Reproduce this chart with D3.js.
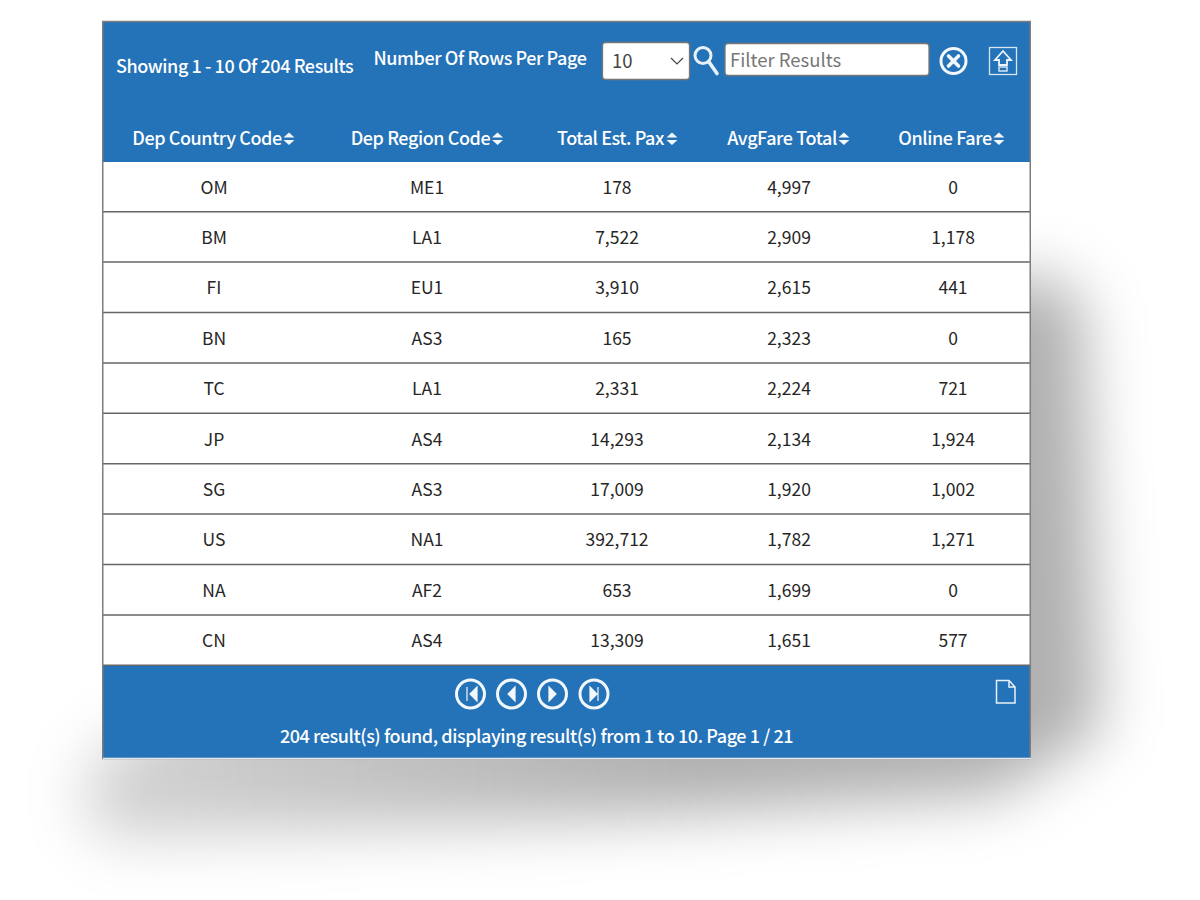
<!DOCTYPE html>
<html>
<head>
<meta charset="utf-8">
<script src="https://cdn.jsdelivr.net/npm/d3@7"></script>
<style>
  html, body { margin: 0; padding: 0; background: #fff; }
  svg { display: block; }
  text { font-family: "Noto Sans CJK JP", "Noto Sans", sans-serif; }
  .head { fill: #fff; font-size: 18px; font-weight: 500; letter-spacing: -0.42px; }
  .cell { fill: #262626; font-size: 17.5px; text-anchor: middle; }
</style>
</head>
<body>
<svg id="chart" width="1200" height="900"></svg>
<script>
const columns = ["Dep Country Code", "Dep Region Code", "Total Est. Pax", "AvgFare Total", "Online Fare"];
const countryCodes = ["OM", "BM", "FI", "BN", "TC", "JP", "SG", "US", "NA", "CN"];
const regionCodes = ["ME1", "LA1", "EU1", "AS3", "LA1", "AS4", "AS3", "NA1", "AF2", "AS4"];
const totalPax = [178, 7522, 3910, 165, 2331, 14293, 17009, 392712, 653, 13309];
const avgFare = [4997, 2909, 2615, 2323, 2224, 2134, 1920, 1782, 1699, 1651];
const onlineFare = [0, 1178, 441, 0, 721, 1924, 1002, 1271, 0, 577];

const showingText = "Showing 1 - 10 Of 204 Results";
const rowsPerPageText = "Number Of Rows Per Page";
const footerText = "204 result(s) found, displaying result(s) from 1 to 10. Page 1 / 21";

const blue = "#2472b7";
const svg = d3.select("#chart");
const fmt = d3.format(",");

const panel = { left: 102, right: 1031, top: 21, headBottom: 162, rowsBottom: 665, bottom: 759 };

// column centres are not even so ordinal instead of band
const x = d3.scaleOrdinal().domain(columns).range([214, 427, 617, 789, 953]);
const y = d3.scaleBand()
  .domain(d3.range(countryCodes.length))
  .range([161.3, 665.3]);

// shadow, lighter towards the lower left
const defs = svg.append("defs");
defs.append("filter").attr("id", "blur")
  .attr("x", "-20%").attr("y", "-20%").attr("width", "140%").attr("height", "140%")
  .append("feGaussianBlur").attr("stdDeviation", 30);

const shadowFade = defs.append("linearGradient").attr("id", "shadowFade")
  .attr("x1", "0%").attr("y1", "0%").attr("x2", "60%").attr("y2", "0%");
shadowFade.append("stop").attr("offset", "0%").attr("stop-color", "#000").attr("stop-opacity", 0.17);
shadowFade.append("stop").attr("offset", "100%").attr("stop-color", "#000").attr("stop-opacity", 0.31);

svg.append("path")
  .attr("d", "M120,740 L1030,270 L1082,300 L1100,730 L1000,795 L600,818 L100,838 L78,785 Z")
  .attr("fill", "url(#shadowFade)")
  .attr("filter", "url(#blur)");

// panel
svg.append("rect")
  .attr("x", panel.left).attr("y", panel.top)
  .attr("width", panel.right - panel.left).attr("height", panel.bottom - panel.top)
  .attr("fill", blue);

svg.append("rect")
  .attr("x", panel.left).attr("y", panel.headBottom)
  .attr("width", panel.right - panel.left).attr("height", panel.rowsBottom - panel.headBottom)
  .attr("fill", "#fff");

// row separators
svg.append("g").selectAll("line").data(d3.range(countryCodes.length)).join("line")
  .attr("x1", panel.left).attr("x2", panel.right)
  .attr("y1", d => y(d) + y.bandwidth())
  .attr("y2", d => y(d) + y.bandwidth())
  .attr("stroke", "#666").attr("stroke-width", 1.5);

// outer border
svg.append("rect")
  .attr("x", panel.left + 0.75).attr("y", panel.top + 0.5)
  .attr("width", panel.right - panel.left - 1.5).attr("height", panel.bottom - panel.top - 1)
  .attr("fill", "none").attr("stroke", "#7d7d7d").attr("stroke-width", 1.5);

svg.append("line")
  .attr("x1", panel.left + 1).attr("x2", panel.right)
  .attr("y1", panel.bottom - 0.5).attr("y2", panel.bottom - 0.5)
  .attr("stroke", "#dbe7f1").attr("stroke-width", 1.4);

// top bar
svg.append("text").attr("class", "head").attr("x", 116).attr("y", 73).text(showingText);
svg.append("text").attr("class", "head").attr("x", 373.5).attr("y", 65).text(rowsPerPageText);

// select box
svg.append("rect")
  .attr("x", 602.5).attr("y", 42.5).attr("width", 87).attr("height", 37).attr("rx", 3)
  .attr("fill", "#fff").attr("stroke", "#777").attr("stroke-width", 1.3);
svg.append("text").attr("x", 612).attr("y", 68).attr("fill", "#444").attr("font-size", 18.5).text("10");
svg.append("path").attr("d", "M671,58 L677,64 L683,58")
  .attr("fill", "none").attr("stroke", "#444").attr("stroke-width", 1.2);

// magnifier
svg.append("circle").attr("cx", 703).attr("cy", 55.5).attr("r", 8)
  .attr("fill", "none").attr("stroke", "#eaf2f9").attr("stroke-width", 3);
svg.append("line").attr("x1", 709).attr("y1", 62).attr("x2", 717).attr("y2", 73.5)
  .attr("stroke", "#eaf2f9").attr("stroke-width", 3.6).attr("stroke-linecap", "round");

// filter input
svg.append("rect")
  .attr("x", 725).attr("y", 43.5).attr("width", 204).attr("height", 32).attr("rx", 3)
  .attr("fill", "#fff").attr("stroke", "#777").attr("stroke-width", 1.3);
svg.append("text").attr("x", 730).attr("y", 67).attr("fill", "#777").attr("font-size", 18.5).text("Filter Results");

// clear icon
svg.append("circle").attr("cx", 953.5).attr("cy", 61).attr("r", 12.5)
  .attr("fill", "none").attr("stroke", "#f2f7fb").attr("stroke-width", 3);
svg.append("path").attr("d", "M948.5,56 L958.5,66 M958.5,56 L948.5,66")
  .attr("stroke", "#f2f7fb").attr("stroke-width", 3.6).attr("stroke-linecap", "round");

// export icon
svg.append("rect").attr("x", 989.5).attr("y", 47.5).attr("width", 27).attr("height", 27)
  .attr("fill", "none").attr("stroke", "#d8e6f2").attr("stroke-width", 1.3);
svg.append("path").attr("d", "M1003,51 L1011,60 L1007,60 L1007,65 L999,65 L999,60 L995,60 Z")
  .attr("fill", "none").attr("stroke", "#eef4f9").attr("stroke-width", 1.8);
svg.append("rect").attr("x", 999).attr("y", 67).attr("width", 8).attr("height", 4)
  .attr("fill", "none").attr("stroke", "#eef4f9").attr("stroke-width", 1.3);

// column headers, text is measured to put the sort arrows right after it
const headOffset = { "Dep Country Code": 207, "Dep Region Code": 420.5, "Total Est. Pax": 610.5, "AvgFare Total": 782, "Online Fare": 945 };
const heads = svg.append("g").selectAll("g").data(columns).join("g");
heads.append("text").attr("class", "head")
  .attr("x", d => headOffset[d]).attr("y", 145).attr("text-anchor", "middle")
  .text(d => d);
heads.each(function (d) {
  const box = d3.select(this).select("text").node().getBBox();
  const ax = box.x + box.width + 7;
  d3.select(this).append("path")
    .attr("d", `M${ax - 5.5},137.5 L${ax},132.5 L${ax + 5.5},137.5 Z M${ax - 5.5},140 L${ax},145 L${ax + 5.5},140 Z`)
    .attr("fill", "#f2f7fb");
});

// rows
const rowValues = countryCodes.map((c, i) => [c, regionCodes[i], fmt(totalPax[i]), fmt(avgFare[i]), fmt(onlineFare[i])]);
const rows = svg.append("g").selectAll("g").data(rowValues).join("g");
rows.selectAll("text").data((d, i) => d.map((v, j) => ({ v, col: columns[j], row: i }))).join("text")
  .attr("class", "cell")
  .attr("x", d => x(d.col))
  .attr("y", d => y(d.row) + y.bandwidth() / 2 + 7)
  .text(d => d.v);

// pager
const pager = [
  { cx: 470.5, d: "M467,687 L467,701 M477,687 L470,694 L477,701 Z" },
  { cx: 511.5, d: "M515,687 L508,694 L515,701 Z" },
  { cx: 552.5, d: "M549,687 L556,694 L549,701 Z" },
  { cx: 594, d: "M598,687 L598,701 M590,687 L597,694 L590,701 Z" }
];
svg.append("g").selectAll("circle").data(pager).join("circle")
  .attr("cx", d => d.cx).attr("cy", 694).attr("r", 14)
  .attr("fill", "none").attr("stroke", "#f2f7fb").attr("stroke-width", 3);
svg.append("g").selectAll("path").data(pager).join("path")
  .attr("d", d => d.d)
  .attr("fill", "#f2f7fb").attr("stroke", "#f2f7fb").attr("stroke-width", 1.2);

// page icon
svg.append("path").attr("d", "M996.5,680.5 L1009,680.5 L1015,687 L1015,703 L996.5,703 Z M1009,680.5 L1009,687 L1015,687")
  .attr("fill", "none").attr("stroke", "#e8f1f8").attr("stroke-width", 1.5);

svg.append("text").attr("class", "head")
  .attr("x", 536.5).attr("y", 743).attr("text-anchor", "middle")
  .text(footerText);
</script>
</body>
</html>
